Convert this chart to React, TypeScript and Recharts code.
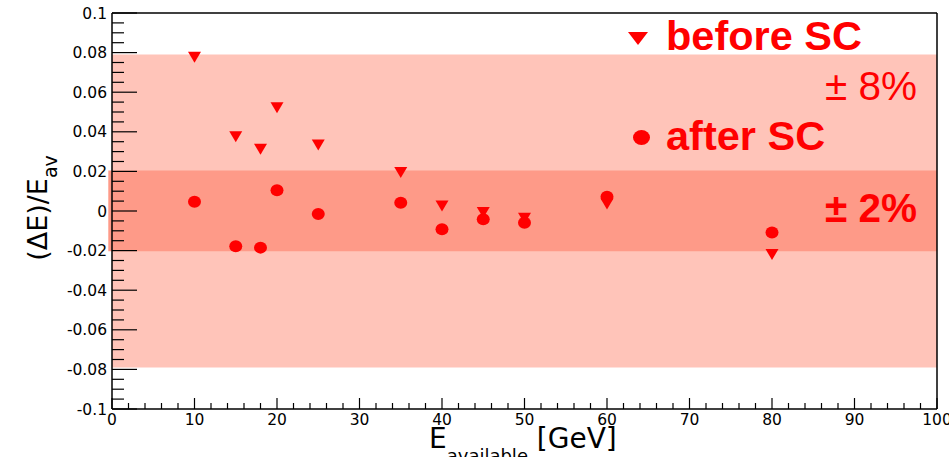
import React from 'react';
import { ScatterChart, Scatter, XAxis, YAxis, ReferenceArea, ReferenceLine } from 'recharts';

// beam energies (GeV) and relative deviations
const energies = [10, 15, 18, 20, 25, 35, 40, 45, 50, 60, 80];
const beforeSC = [0.0777, 0.0375, 0.0312, 0.0522, 0.0333, 0.0195, 0.0025, -0.0008, -0.0037, 0.0035, -0.022];
const afterSC = [0.0047, -0.0178, -0.0185, 0.0105, -0.0015, 0.0042, -0.0092, -0.0042, -0.0059, 0.0072, -0.0108];

const xMajorTicks = [0, 10, 20, 30, 40, 50, 60, 70, 80, 90, 100];
const yMajorTicks = [-0.1, -0.08, -0.06, -0.04, -0.02, 0, 0.02, 0.04, 0.06, 0.08, 0.1];

const outerBand = [-0.079, 0.079];
const innerBand = [-0.0203, 0.0205];

const RED = '#ff0000';
const LIGHT_BAND = '#ffc4b9';
const DARK_BAND = '#fe9a88';
const AXIS_FONT = '"DejaVu Sans", sans-serif';
const LEGEND_FONT = '"Liberation Sans", Arial, sans-serif';

// minor ticks every 2 GeV and every 0.005
const xTicks = Array.from({ length: 51 }, (_, i) => i * 2);
const yTicks = Array.from({ length: 41 }, (_, i) => Math.round((-0.1 + i * 0.005) * 10000) / 10000);

const beforeData = energies.map((x, i) => ({ x, y: beforeSC[i] }));
const afterData = energies.map((x, i) => ({ x, y: afterSC[i] }));

const fmtY = (v: number) => String(Number(v.toFixed(2)));

function XTick({ x, y, payload }: any) {
  const v = payload.value as number;
  const major = xMajorTicks.includes(v);
  return (
    <g>
      <line x1={x} x2={x} y1={y} y2={y - (major ? 11 : 6)} stroke="#000" strokeWidth={1.2} />
      {major && (
        <text x={x} y={y + 16} textAnchor="middle" fontFamily={AXIS_FONT} fontSize={15.5} fill="#000">
          {v}
        </text>
      )}
    </g>
  );
}

function YTick({ x, y, payload }: any) {
  const v = payload.value as number;
  const major = yMajorTicks.some((t) => Math.abs(t - v) < 1e-6);
  return (
    <g>
      <line x1={x} x2={x + (major ? 25 : 12)} y1={y} y2={y} stroke="#000" strokeWidth={1.2} />
      {major && (
        <text x={x - 5} y={y} dy="0.36em" textAnchor="end" fontFamily={AXIS_FONT} fontSize={15.5} fill="#000">
          {fmtY(v)}
        </text>
      )}
    </g>
  );
}

function TriangleDown({ cx, cy, w = 13, h = 11 }: { cx: number; cy: number; w?: number; h?: number }) {
  return (
    <polygon
      points={`${cx - w / 2},${cy - h / 2} ${cx + w / 2},${cy - h / 2} ${cx},${cy + h / 2}`}
      fill={RED}
    />
  );
}

function Dot({ cx, cy, rx = 6.5, ry = 6 }: { cx: number; cy: number; rx?: number; ry?: number }) {
  return <ellipse cx={cx} cy={cy} rx={rx} ry={ry} fill={RED} />;
}

export default function App() {
  return (
    <div style={{ position: 'absolute', left: 0, top: 0, width: 949, height: 457, background: '#fff' }}>
      <ScatterChart width={949} height={457} margin={{ top: 13, right: 12, left: 0, bottom: 0 }}>
        <ReferenceArea y1={outerBand[0]} y2={outerBand[1]} fill={LIGHT_BAND} fillOpacity={1} stroke="none" />
        <ReferenceArea
          x1={-0.45}
          y1={innerBand[0]}
          y2={innerBand[1]}
          fill={DARK_BAND}
          fillOpacity={1}
          stroke="none"
          ifOverflow="visible"
        />
        <XAxis
          type="number"
          dataKey="x"
          domain={[0, 100]}
          ticks={xTicks}
          interval={0}
          allowDataOverflow
          tickSize={0}
          tickMargin={0}
          tickLine={false}
          tick={(p: any) => <XTick {...p} />}
          axisLine={{ stroke: '#000', strokeWidth: 1.5 }}
          height={48}
        />
        <YAxis
          type="number"
          dataKey="y"
          domain={[-0.1, 0.1]}
          ticks={yTicks}
          interval={0}
          allowDataOverflow
          tickSize={0}
          tickMargin={0}
          tickLine={false}
          tick={(p: any) => <YTick {...p} />}
          axisLine={{ stroke: '#000', strokeWidth: 1.5 }}
          width={112}
        />
        <ReferenceLine y={0.1} stroke="#000" strokeWidth={1.5} />
        <ReferenceLine x={100} stroke="#000" strokeWidth={1.5} />
        <Scatter
          name="before SC"
          data={beforeData}
          isAnimationActive={false}
          shape={(p: any) => <TriangleDown cx={p.cx} cy={p.cy} />}
        />
        <Scatter
          name="after SC"
          data={afterData}
          isAnimationActive={false}
          shape={(p: any) => <Dot cx={p.cx} cy={p.cy} />}
        />
      </ScatterChart>
      <svg
        width={949}
        height={457}
        style={{ position: 'absolute', left: 0, top: 0, pointerEvents: 'none' }}
      >
        {/* axis titles */}
        <text transform="translate(47,208) rotate(-90)" textAnchor="middle" fontFamily={AXIS_FONT} fontSize={27} fill="#000">
          (ΔE)/E
          <tspan dy={10} fontSize={19}>av</tspan>
        </text>
        <text x={429} y={448} fontFamily={AXIS_FONT} fontSize={28} fill="#000">
          E
          <tspan dy={14} fontSize={18}>available</tspan>
          <tspan dy={-14}> [GeV]</tspan>
        </text>
        {/* legend */}
        <TriangleDown cx={638} cy={38.5} w={20} h={13} />
        <text x={666} y={50} fontFamily={LEGEND_FONT} fontWeight="bold" fontSize={41.5} fill={RED}>
          before SC
        </text>
        <Dot cx={641.5} cy={137.5} rx={8.5} ry={7.5} />
        <text x={666} y={150} fontFamily={LEGEND_FONT} fontWeight="bold" fontSize={41.5} fill={RED}>
          after SC
        </text>
        <text x={917} y={100} textAnchor="end" fontFamily={LEGEND_FONT} fontSize={40.5} fill={RED}>
          ± 8%
        </text>
        <text x={917} y={222} textAnchor="end" fontFamily={LEGEND_FONT} fontWeight="bold" fontSize={40.5} fill={RED}>
          ± 2%
        </text>
      </svg>
    </div>
  );
}
